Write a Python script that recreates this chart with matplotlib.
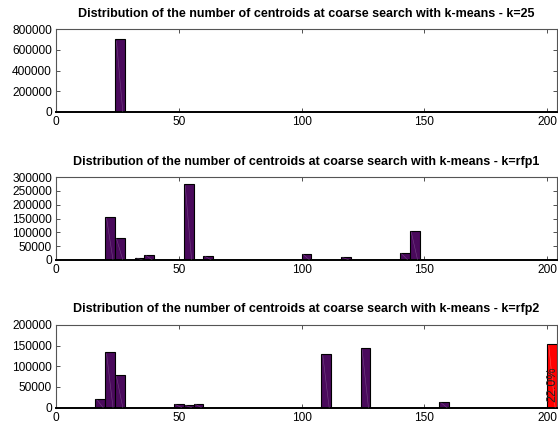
import numpy as np
import matplotlib.pyplot as plt

plt.rcParams["font.family"] = ["Liberation Sans", "DejaVu Sans"]

# bin left edges (width 4) and counts
BIN_W = 4
k25_bins = [24]
k25_counts = [705000]

rfp1_bins = [20, 24, 32, 36, 52, 60, 100, 116, 140, 144]
rfp1_counts = [155000, 80000, 8000, 17000, 277000, 14000, 21000, 10000, 24000, 105000]

rfp2_bins = [16, 20, 24, 48, 52, 56, 108, 124, 156]
rfp2_counts = [20000, 134000, 78000, 8000, 6000, 9000, 130000, 145000, 13000]

# overflow bin (>= 200) shown in red
rfp2_over_bin = 200
rfp2_over_count = 155000
rfp2_over_label = "22.0%"

titles = [
    "Distribution of the number of centroids at coarse search with k-means - k=25",
    "Distribution of the number of centroids at coarse search with k-means - k=rfp1",
    "Distribution of the number of centroids at coarse search with k-means - k=rfp2",
]
ylims = [800000, 300000, 200000]
yticks = [
    [0, 200000, 400000, 600000, 800000],
    [0, 50000, 100000, 150000, 200000, 250000, 300000],
    [0, 50000, 100000, 150000, 200000],
]
xticks = [0, 50, 100, 150, 200]

BAR_COLOR = "#4a0a5c"


def draw_hist(ax, bins, counts, color):
    all_bins = np.arange(0, 204, BIN_W)
    heights = np.zeros(len(all_bins))
    for b, c in zip(bins, counts):
        heights[b // BIN_W] = c
    ax.bar(all_bins, heights, width=BIN_W, align="edge", color=color,
           edgecolor="black", linewidth=0.8, zorder=2)
    # faint diagonal stroke inside each bar (rendering artefact in original)
    for b, c in zip(bins, counts):
        ax.plot([b + 0.6, b + BIN_W - 0.8], [c * 0.97, 0], color="#9a78aa",
                lw=0.4, alpha=0.5, zorder=3)


fig = plt.figure(figsize=(5.58, 4.29), dpi=100)
bottoms = [0.739, 0.394, 0.0497]
axes = []
for i in range(3):
    ax = fig.add_axes([0.1004, bottoms[i], 0.898, 0.193])
    axes.append(ax)

draw_hist(axes[0], k25_bins, k25_counts, BAR_COLOR)
draw_hist(axes[1], rfp1_bins, rfp1_counts, BAR_COLOR)
draw_hist(axes[2], rfp2_bins, rfp2_counts, BAR_COLOR)

ax = axes[2]
ax.bar([rfp2_over_bin], [rfp2_over_count], width=BIN_W, align="edge",
       color="#ff0000", edgecolor="black", linewidth=0.8, zorder=2)
ax.plot([rfp2_over_bin + 0.6, rfp2_over_bin + BIN_W - 0.8],
        [rfp2_over_count * 0.97, 0], color="#ff9090", lw=0.4, alpha=0.6, zorder=3)
ax.text(rfp2_over_bin + BIN_W / 2, rfp2_over_count * 0.09, rfp2_over_label,
        rotation=90, ha="center", va="bottom", fontsize=9, color="#222222",
        zorder=4, clip_on=False)

for i, ax in enumerate(axes):
    ax.set_xlim(0, 204)
    ax.set_ylim(0, ylims[i])
    ax.set_xticks(xticks)
    ax.set_yticks(yticks[i])
    ax.set_yticklabels([str(v) for v in yticks[i]])
    ax.tick_params(direction="in", length=3, width=0.6, color="#333333",
                   top=True, right=True, labelsize=8.6, pad=3)
    for side in ["top", "left", "right"]:
        ax.spines[side].set_color("#555555")
        ax.spines[side].set_linewidth(0.8)
    ax.spines["bottom"].set_color("black")
    ax.spines["bottom"].set_linewidth(1.4)
    ax.set_title(titles[i], fontsize=9, fontweight="bold", pad=9)

plt.savefig("out.png", dpi=100)
plt.close()
